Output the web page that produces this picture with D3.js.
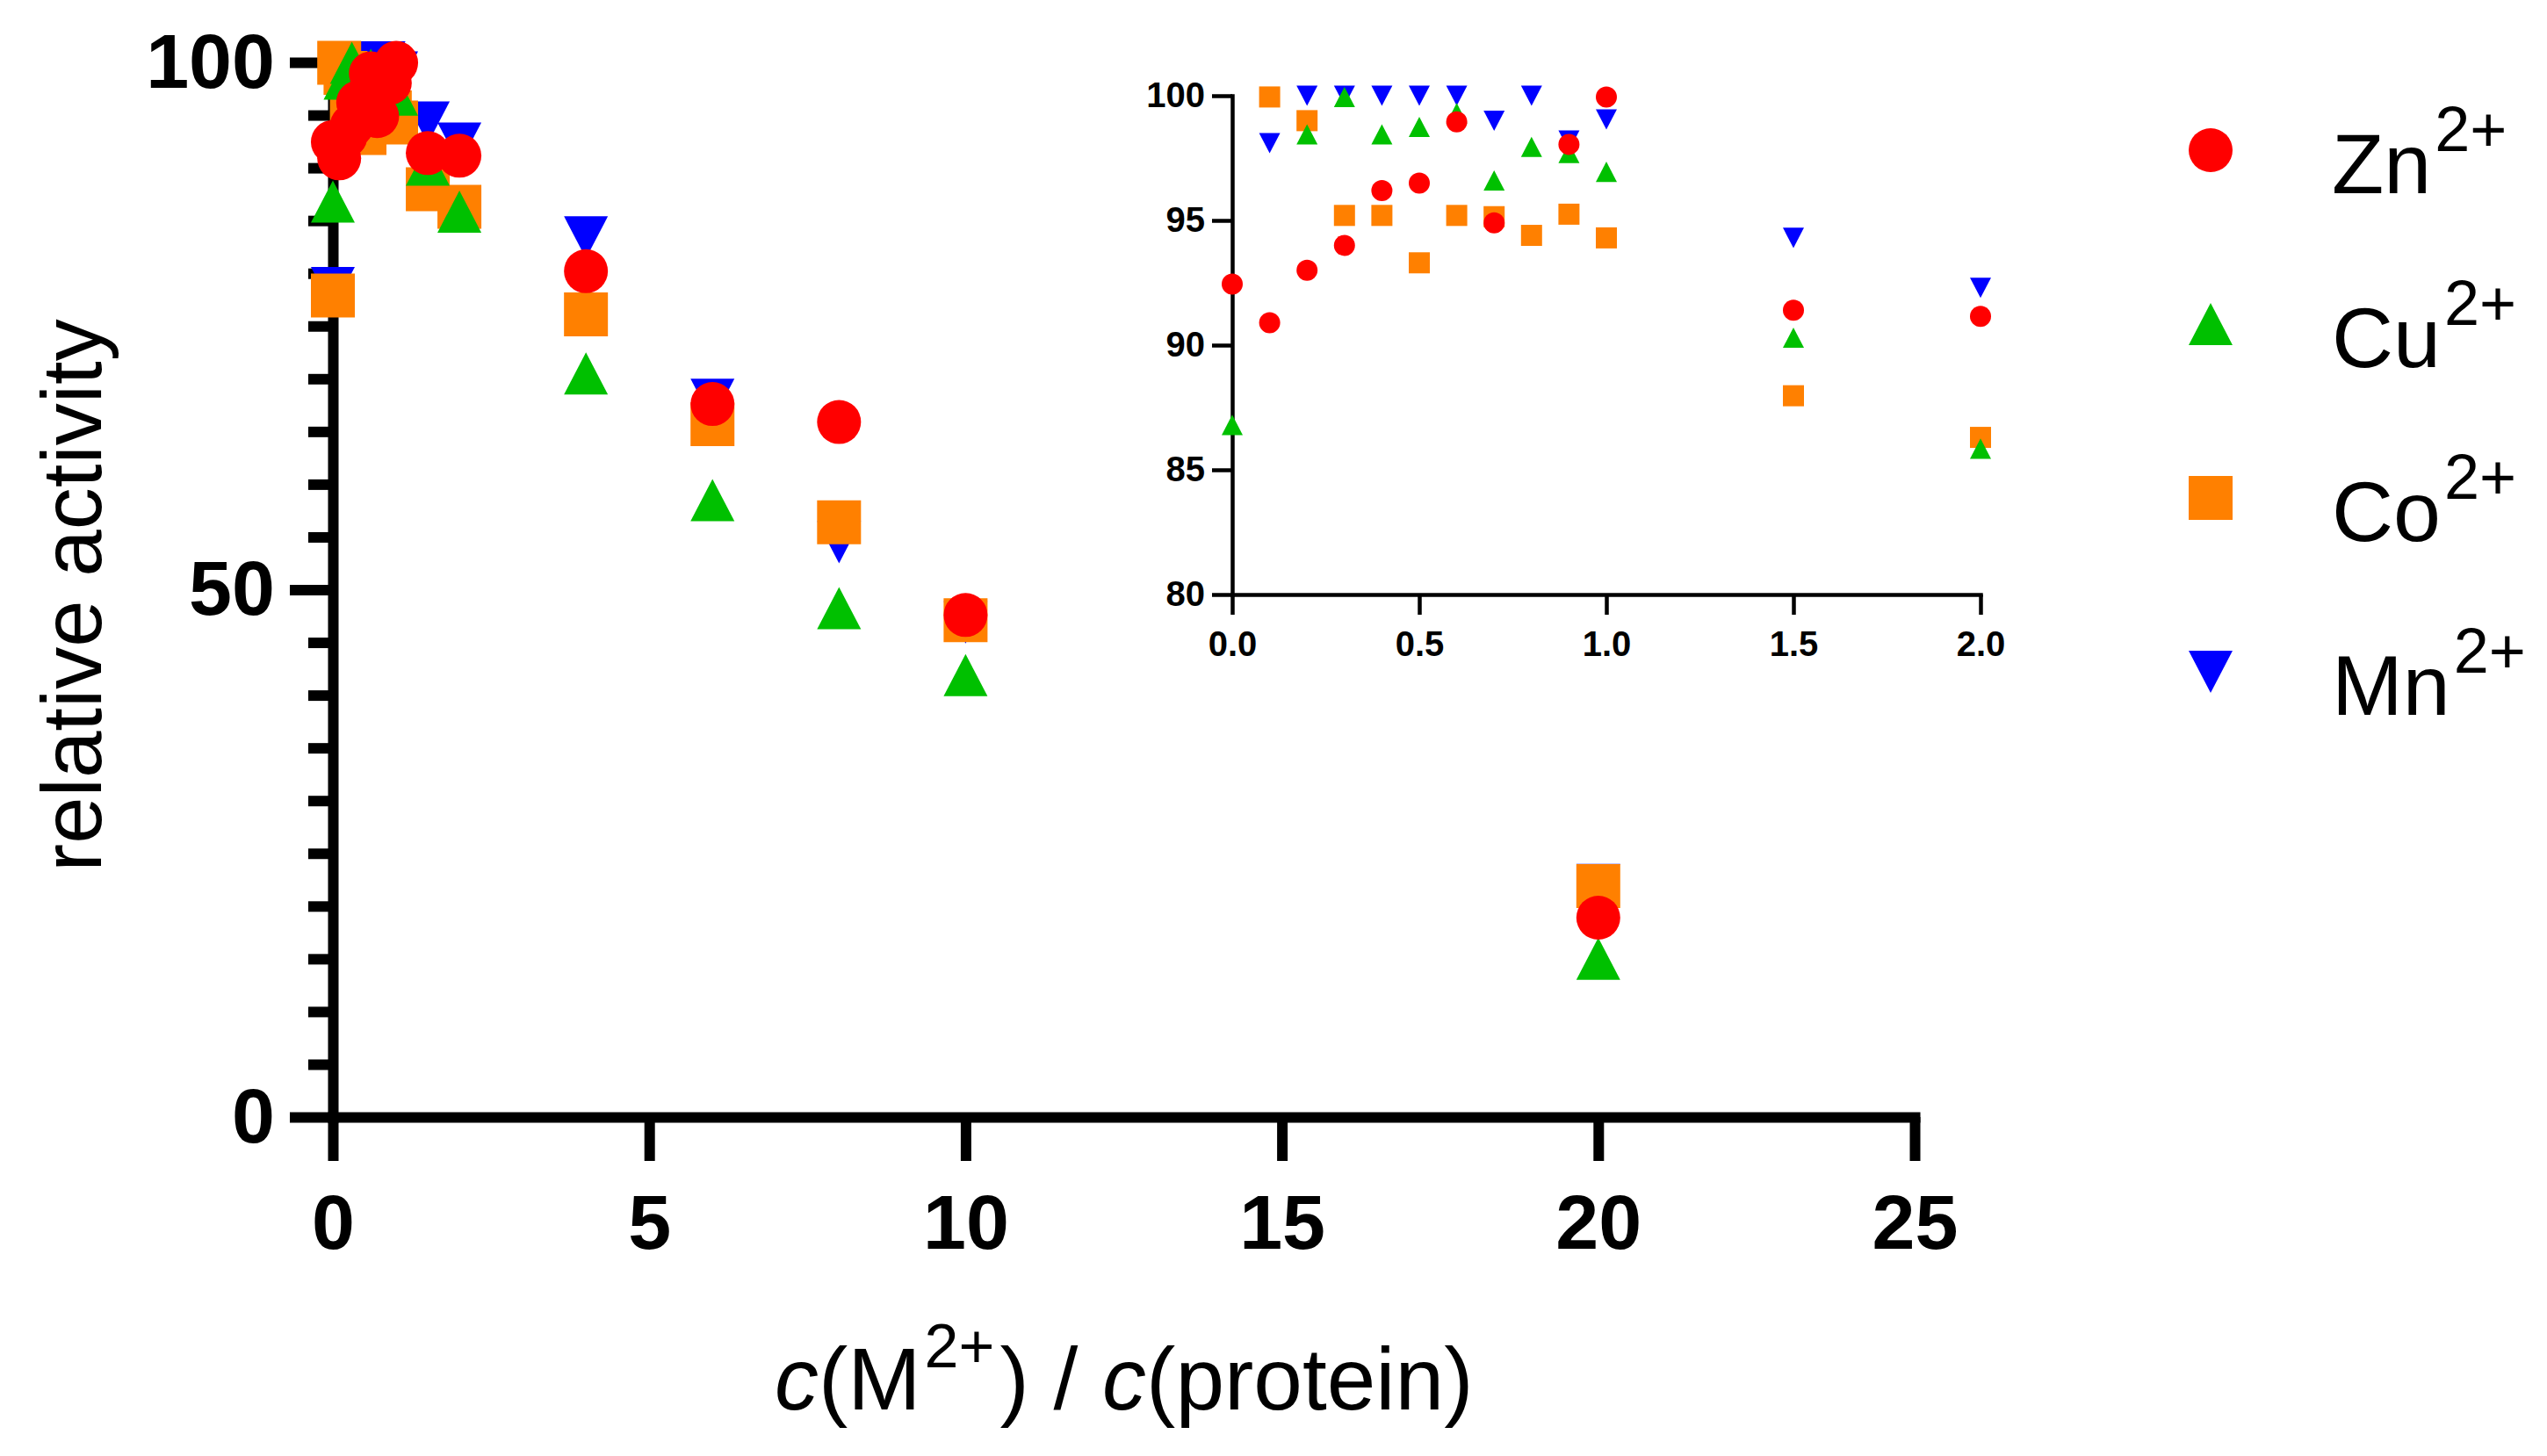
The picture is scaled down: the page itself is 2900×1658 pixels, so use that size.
<!DOCTYPE html>
<html lang="en">
<head>
    <meta charset="UTF-8">
    <title>relative activity</title>
    <style>
        body { margin: 0; background: #fff; }
        svg { display: block; font-family: "Liberation Sans", Arial, sans-serif; }
    </style>
</head>
<body>
<svg id="chart"></svg>
<script src="https://cdn.jsdelivr.net/npm/d3@7"></script>
<script>
    // data (c(M2+)/c(protein) vs relative activity)
    var conc = [0, 0.1, 0.2, 0.3, 0.4, 0.5, 0.6, 0.7, 0.8, 0.9, 1.0, 1.5, 2, 4, 6, 8, 10, 20];
    var zn = [92.45, 90.9, 93.0, 94.0, 96.2, 96.5, 98.95, 94.9, null, 98.05, 99.95, 91.4, 91.15, 80.2, 67.6, 65.9, 47.6, 18.9];
    var cu = [86.8, null, 98.45, 99.95, 98.45, 98.75, 99.3, 96.6, 97.95, 97.7, 96.95, 90.3, 85.85, 70.5, 58.5, 48.25, 41.9, 15.0];
    var co = [77.9, 99.95, 99.0, 95.2, 95.2, 93.3, 95.2, 95.15, 94.4, 95.25, 94.3, 87.97, 86.3, 76.1, 65.7, 56.4, 47.1, 21.9];
    var mn = [78.6, 98.1, 100, 100, 100, 100, 100, 99.0, 100, 98.2, 99.05, 94.3, 92.3, 83.4, 68.0, 54.5, 46.9, 22.0];

    var mainXTicks = [0, 5, 10, 15, 20, 25];
    var mainYTicks = [0, 50, 100];
    var insetXTicks = [0, 0.5, 1.0, 1.5, 2.0];
    var insetYTicks = [80, 85, 90, 95, 100];

    var width = 2900;
    var height = 1658;

    // legend order is Zn, Cu, Co, Mn ; drawing order is the reverse (Mn at the bottom)
    var series = [
        {name: "Zn", values: zn, color: "#ff0000", shape: "circle"},
        {name: "Cu", values: cu, color: "#00c000", shape: "up"},
        {name: "Co", values: co, color: "#ff8000", shape: "square"},
        {name: "Mn", values: mn, color: "#0000ff", shape: "down"}
    ];

    function markerPath(shape, s) {
        var h = s / 2;
        if (shape === "circle") {
            var p = d3.path();
            p.arc(0, 0, h, 0, 2 * Math.PI);
            return p.toString();
        }
        if (shape === "square") {
            return "M" + (-h) + "," + (-h) + "H" + h + "V" + h + "H" + (-h) + "Z";
        }
        var th = s * 0.96 / 2;
        if (shape === "up") {
            return "M0," + (-th) + "L" + h + "," + th + "L" + (-h) + "," + th + "Z";
        }
        return "M0," + th + "L" + h + "," + (-th) + "L" + (-h) + "," + (-th) + "Z";
    }

    var svg = d3.select("#chart")
        .attr("width", width)
        .attr("height", height);

    // ---------- main plot ----------
    var x = d3.scaleLinear().domain([0, 25]).range([379, 2180]);
    var y = d3.scaleLinear().domain([0, 100]).range([1272, 71]);

    var yMinor = d3.range(0, 101, 5).filter(function (d) { return d % 50 !== 0; });

    svg.append("g")
        .attr("transform", "translate(" + x(0) + ",0)")
        .call(d3.axisLeft(y).tickValues(yMinor).tickSize(28).tickFormat(""))
        .call(function (g) { g.select(".domain").remove(); })
        .selectAll("line").attr("stroke", "#000").attr("stroke-width", 12);

    var yAxis = svg.append("g")
        .attr("transform", "translate(" + x(0) + ",0)")
        .call(d3.axisLeft(y).tickValues(mainYTicks).tickSize(49).tickSizeOuter(0).tickPadding(17));

    var xAxis = svg.append("g")
        .attr("transform", "translate(0," + y(0) + ")")
        .call(d3.axisBottom(x).tickValues(mainXTicks).tickSize(50).tickSizeOuter(0).tickPadding(38));

    [xAxis, yAxis].forEach(function (g) {
        g.select(".domain").attr("stroke", "#000").attr("stroke-width", 12).attr("stroke-linecap", "square");
        g.selectAll(".tick line").attr("stroke", "#000").attr("stroke-width", 12);
        g.selectAll(".tick text")
            .attr("fill", "#000")
            .style("font-size", "88px")
            .style("font-weight", "bold")
            .style("font-family", "'Liberation Sans', Arial, sans-serif");
    });

    var mainLayer = svg.append("g");
    series.slice().reverse().forEach(function (s) {
        var pts = conc.map(function (c, i) { return {x: c, y: s.values[i]}; })
            .filter(function (d) { return d.y !== null; });
        mainLayer.append("g").selectAll("path")
            .data(pts)
            .enter().append("path")
            .attr("transform", function (d) { return "translate(" + x(d.x) + "," + y(d.y) + ")"; })
            .attr("d", markerPath(s.shape, 50))
            .attr("fill", s.color);
    });

    // axis titles
    svg.append("text")
        .attr("transform", "translate(115,678) rotate(-90)")
        .attr("text-anchor", "middle")
        .style("font-size", "96px")
        .text("relative activity");

    var xt = svg.append("text")
        .attr("x", 882)
        .attr("y", 1605)
        .style("font-size", "100px");
    xt.append("tspan").style("font-style", "italic").text("c");
    xt.append("tspan").text("(M");
    xt.append("tspan").attr("dy", -48).attr("dx", 4).style("font-size", "70px").text("2+");
    xt.append("tspan").attr("dy", 48).attr("dx", 6).text(") / ");
    xt.append("tspan").style("font-style", "italic").text("c");
    xt.append("tspan").text("(protein)");

    // ---------- inset ----------
    var ix = d3.scaleLinear().domain([0, 2]).range([1403, 2255]);
    var iy = d3.scaleLinear().domain([80, 100]).range([677, 109]);

    var iyAxis = svg.append("g")
        .attr("transform", "translate(" + ix(0) + ",0)")
        .call(d3.axisLeft(iy).tickValues(insetYTicks).tickSize(23).tickSizeOuter(0).tickPadding(8)
            .tickFormat(d3.format("d")));

    var ixAxis = svg.append("g")
        .attr("transform", "translate(0," + iy(80) + ")")
        .call(d3.axisBottom(ix).tickValues(insetXTicks).tickSize(23).tickSizeOuter(0).tickPadding(19)
            .tickFormat(d3.format(".1f")));

    [ixAxis, iyAxis].forEach(function (g) {
        g.select(".domain").attr("stroke", "#000").attr("stroke-width", 4.5).attr("stroke-linecap", "square");
        g.selectAll(".tick line").attr("stroke", "#000").attr("stroke-width", 4.5);
        g.selectAll(".tick text")
            .attr("fill", "#000")
            .style("font-size", "40px")
            .style("font-weight", "bold")
            .style("font-family", "'Liberation Sans', Arial, sans-serif");
    });

    var insetLayer = svg.append("g");
    series.slice().reverse().forEach(function (s) {
        var pts = conc.map(function (c, i) { return {x: c, y: s.values[i]}; })
            .filter(function (d) { return d.y !== null && d.x <= 2 && d.y >= 80; });
        insetLayer.append("g").selectAll("path")
            .data(pts)
            .enter().append("path")
            .attr("transform", function (d) { return "translate(" + ix(d.x) + "," + iy(d.y) + ")"; })
            .attr("d", markerPath(s.shape, 24))
            .attr("fill", s.color);
    });

    // ---------- legend ----------
    var legend = svg.append("g")
        .selectAll("g")
        .data(series)
        .enter().append("g")
        .attr("transform", function (d, i) { return "translate(2517," + (171 + i * 198) + ")"; });

    legend.append("path")
        .attr("d", function (d) { return markerPath(d.shape, 50); })
        .attr("fill", function (d) { return d.color; });

    var lt = legend.append("text")
        .attr("x", 138)
        .attr("y", 49)
        .style("font-size", "97px");
    lt.append("tspan").text(function (d) { return d.name; });
    lt.append("tspan").attr("dy", -48).attr("dx", 4).style("font-size", "72px").text("2+");
</script>
</body>
</html>
